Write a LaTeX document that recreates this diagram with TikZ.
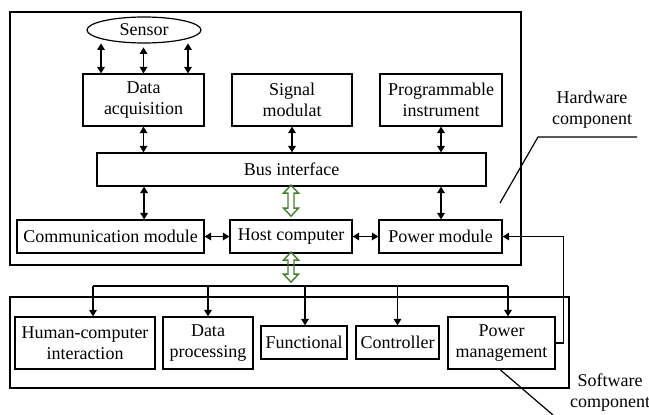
\documentclass[tikz,border=0pt]{standalone}
\usepackage{fontspec}
\setmainfont{Liberation Serif}
\usetikzlibrary{arrows.meta,shapes.geometric,calc}
\definecolor{arrgreen}{RGB}{70,125,45}
\begin{document}
\begin{tikzpicture}[x=1pt,y=-1pt,
  every node/.style={font=\fontsize{18}{21}\selectfont},
  box/.style={draw,line width=1.2pt,inner sep=0pt,align=center},
  outer/.style={draw,line width=1.5pt},
  arr/.style={line width=1.6pt,-{Triangle[length=6.5pt,width=7.5pt]}},
  dbl/.style={line width=1.6pt,{Triangle[length=6.5pt,width=7.5pt]}-{Triangle[length=6.5pt,width=7.5pt]}},
  lead/.style={line width=1.2pt},
  garrow/.pic={\draw[arrgreen,line width=1.4pt,line join=miter]
     (0,0) -- (7.5,8) -- (3,8) -- (3,\pgfkeysvalueof{/tikz/garrowlen}-8) -- (7.5,\pgfkeysvalueof{/tikz/garrowlen}-8)
     -- (0,\pgfkeysvalueof{/tikz/garrowlen}) -- (-7.5,\pgfkeysvalueof{/tikz/garrowlen}-8) -- (-3,\pgfkeysvalueof{/tikz/garrowlen}-8)
     -- (-3,8) -- (-7.5,8) -- cycle;},
  garrowlen/.initial=31
]
\useasboundingbox (0,0) rectangle (649,415);

% outer frames
\draw[outer] (10,12) rectangle (521,265);
\draw[outer] (10,297) rectangle (569,388);

% hardware nodes
\node[draw,ellipse,line width=1.2pt,minimum width=114,minimum height=26,inner sep=0pt] (sensor) at (144,30) {Sensor};
\node[box,minimum width=121,minimum height=52] (da) at (143.5,100) {Data\\acquisition};
\node[box,minimum width=120,minimum height=52] (sm) at (292,100) {Signal\\modulat};
\node[box,minimum width=122,minimum height=52] (pi) at (441,100) {Programmable\\instrument};
\node[box,minimum width=389,minimum height=33] (bus) at (291.5,169.5) {Bus interface};
\node[box,minimum width=187,minimum height=33] (comm) at (110.5,236.5) {Communication module};
\node[box,minimum width=122,minimum height=33] (host) at (291,236.5) {Host computer};
\node[box,minimum width=123,minimum height=33] (pwr) at (440.5,236.5) {Power module};

% software nodes
\node[box,minimum width=140,minimum height=52] (hci) at (85,343) {Human-computer\\interaction};
\node[box,minimum width=90,minimum height=52] (dp) at (208,343) {Data\\processing};
\node[box,minimum width=86,minimum height=33] (fun) at (304,342.5) {Functional};
\node[box,minimum width=83,minimum height=33] (ctl) at (397.5,342.5) {Controller};
\node[box,minimum width=107,minimum height=52] (pm) at (501.5,343) {Power\\management};

% labels
\node[align=center] (hwl) at (592,110) {Hardware\\component};
\node[align=center] (swl) at (610,393) {Software\\component};

% sensor <-> data acquisition
\draw[dbl] ([xshift=-42.5pt]da.north) -- ++(0,-30);
\draw[dbl] (da.north) -- ++(0,-26);
\draw[dbl] ([xshift=44.5pt]da.north) -- ++(0,-30);

% modules <-> bus
\draw[dbl] (da.south) -- (da.south |- bus.north);
\draw[dbl] (sm.south) -- (sm.south |- bus.north);
\draw[dbl] (pi.south) -- (pi.south |- bus.north);
\draw[dbl] (bus.south -| comm.east) ++(-60.5,0) coordinate (cb) -- (cb |- comm.north);
\draw[dbl] (pi.south |- bus.south) -- (pi.south |- pwr.north);

% horizontal links
\draw[dbl] (comm.east) -- (host.west);
\draw[dbl] (host.east) -- (pwr.west);

% green block arrows
\pic at ([yshift=1.5pt]bus.south -| host.north) {garrow};
\coordinate (distr) at (93,286);
\begin{scope}[garrowlen=30]
\pic at ([yshift=1.5pt]host.south) {garrow};
\end{scope}

% software distribution
\draw[line width=1.6pt] (distr) -- (508,286);
\draw[arr] (distr) -- (distr |- hci.north);
\draw[arr] (dp.north |- distr) -- (dp.north);
\draw[arr] ([xshift=1pt]fun.north |- distr) -- ([xshift=1pt]fun.north);
\draw[arr] (ctl.north |- distr) -- (ctl.north);
\draw[arr] ([xshift=6.5pt]pm.north |- distr) -- ([xshift=6.5pt]pm.north);

% feedback power management -> power module
\draw[arr] (pm.east) -- ++(8,0) |- (pwr.east);

% leader lines
\draw[lead] (500,203) -- (538,137) -- (637,137);
\draw[lead] ([xshift=-1.5pt]pm.south) -- (553,415);
\end{tikzpicture}
\end{document}
